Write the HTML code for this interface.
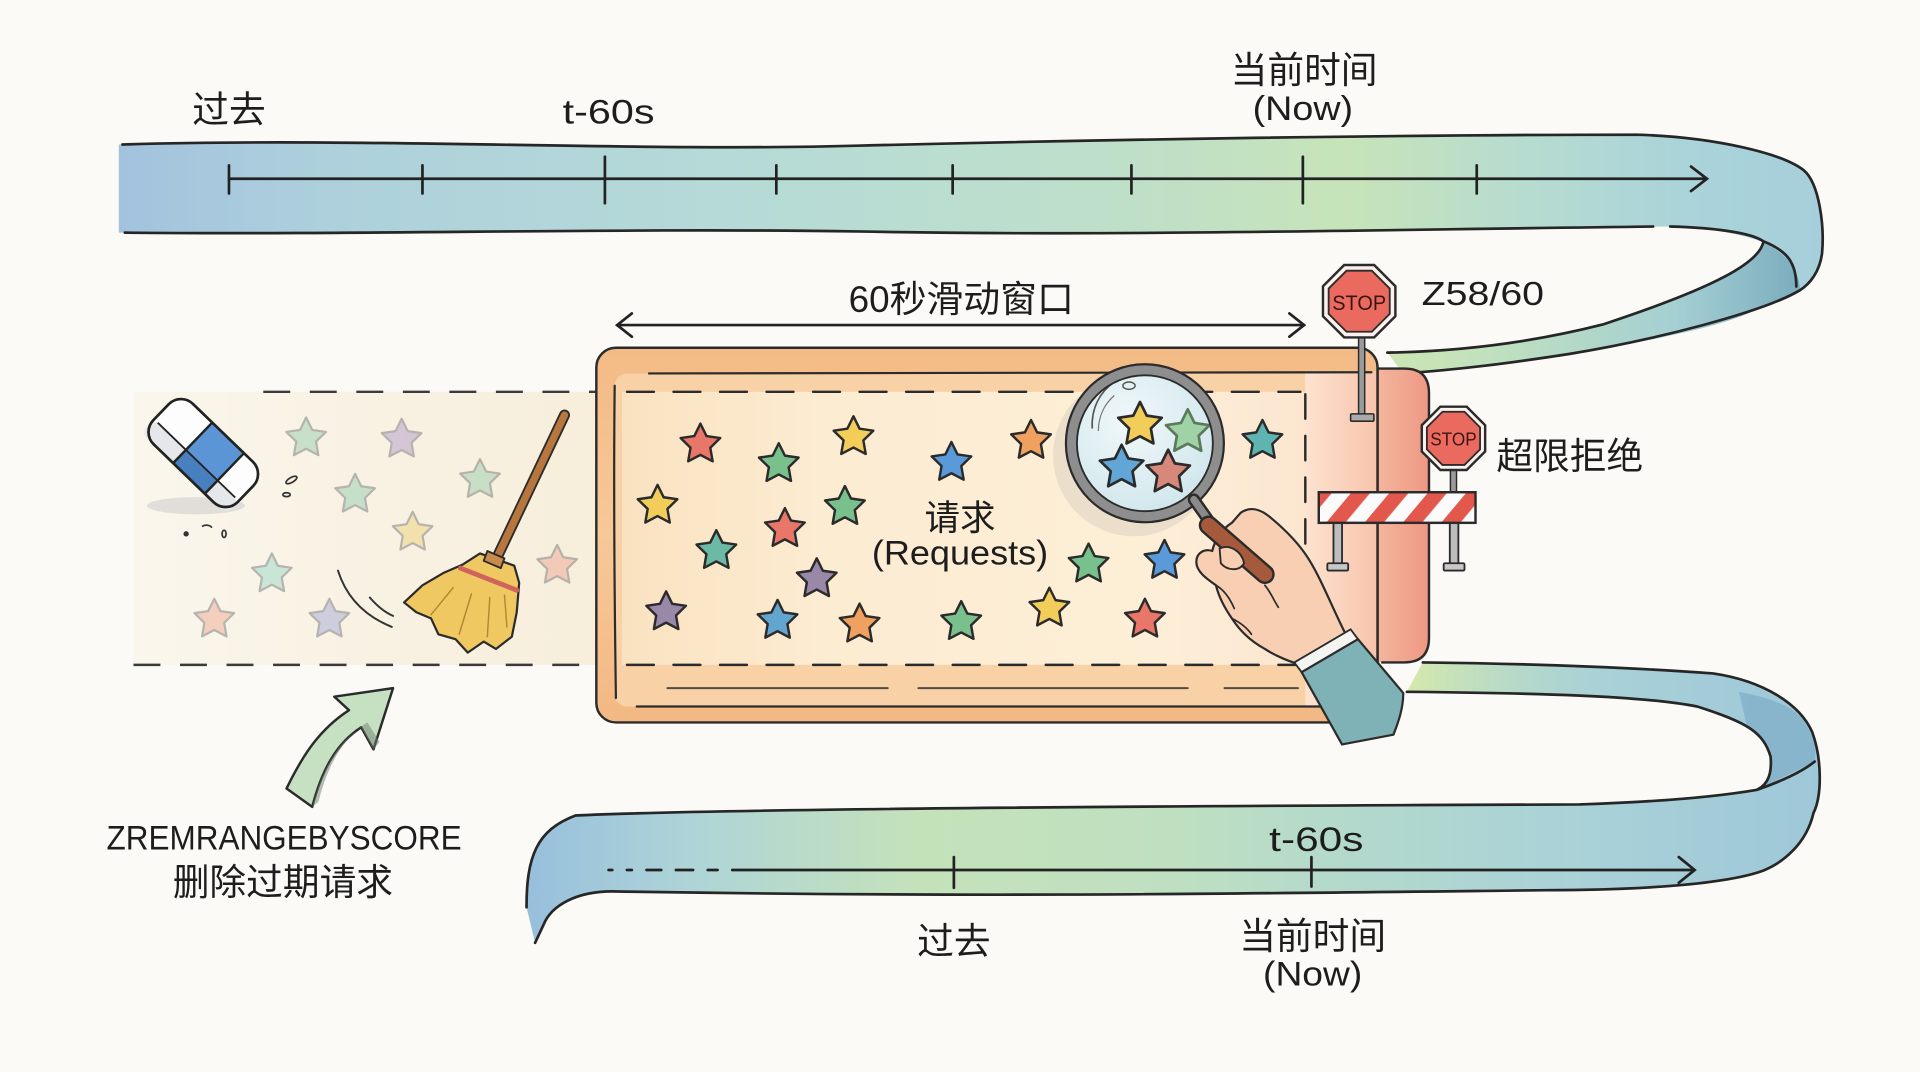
<!DOCTYPE html>
<html><head><meta charset="utf-8">
<style>
html,body{margin:0;padding:0;background:#fbfaf7;overflow:hidden}
svg{display:block}
text{font-family:"Liberation Sans","Noto Sans CJK SC",sans-serif;fill:#1d1d1d}
</style></head>
<body>
<svg width="1920" height="1072" viewBox="0 0 1568 875.5" preserveAspectRatio="none" xmlns="http://www.w3.org/2000/svg">
<defs>
  <path id="st" d="M0,-17 L5,-6.88 L16.17,-5.25 L8.08,2.63 L9.99,13.75 L0,8.5 L-9.99,13.75 L-8.08,2.63 L-16.17,-5.25 L-5,-6.88 Z"/>
  <linearGradient id="topG" gradientUnits="userSpaceOnUse" x1="97" y1="0" x2="1490" y2="0">
    <stop offset="0" stop-color="#a3c2de"/>
    <stop offset="0.12" stop-color="#add0dc"/>
    <stop offset="0.4" stop-color="#b7dcd6"/>
    <stop offset="0.62" stop-color="#c0e0c6"/>
    <stop offset="0.72" stop-color="#c7e4b8"/>
    <stop offset="0.82" stop-color="#b7dccf"/>
    <stop offset="0.92" stop-color="#aad3da"/>
    <stop offset="1" stop-color="#a6cfdb"/>
  </linearGradient>
  <linearGradient id="retG" gradientUnits="userSpaceOnUse" x1="1470" y1="0" x2="1133" y2="0">
    <stop offset="0" stop-color="#7cadbe"/>
    <stop offset="0.3" stop-color="#a4cfd3"/>
    <stop offset="0.8" stop-color="#c3e2bc"/>
    <stop offset="1" stop-color="#cbe6b2"/>
  </linearGradient>
  <linearGradient id="botG" gradientUnits="userSpaceOnUse" x1="430" y1="0" x2="1490" y2="0">
    <stop offset="0" stop-color="#97bfdc"/>
    <stop offset="0.123" stop-color="#aed4d8"/>
    <stop offset="0.302" stop-color="#c4e2ba"/>
    <stop offset="0.49" stop-color="#bfe0c0"/>
    <stop offset="0.632" stop-color="#b3d9cc"/>
    <stop offset="0.821" stop-color="#a9d1d8"/>
    <stop offset="1" stop-color="#9ec7d9"/>
  </linearGradient>
  <linearGradient id="stripGreen" gradientUnits="userSpaceOnUse" x1="1150" y1="0" x2="1330" y2="0">
    <stop offset="0" stop-color="#d6e9ac" stop-opacity="1"/>
    <stop offset="1" stop-color="#a9d3d0" stop-opacity="0"/>
  </linearGradient>
  <linearGradient id="fadeG" x1="0" y1="0" x2="1" y2="0">
    <stop offset="0" stop-color="#faf6ec"/>
    <stop offset="1" stop-color="#f7eedb"/>
  </linearGradient>
  <linearGradient id="frameG" x1="0" y1="0" x2="0" y2="1">
    <stop offset="0" stop-color="#f3ba85"/>
    <stop offset="0.5" stop-color="#f7c898"/>
    <stop offset="1" stop-color="#f3b883"/>
  </linearGradient>
  <linearGradient id="inG" gradientUnits="userSpaceOnUse" x1="505" y1="0" x2="1066" y2="0">
    <stop offset="0" stop-color="#fae2c0"/>
    <stop offset="0.3" stop-color="#fcecd2"/>
    <stop offset="0.8" stop-color="#fdeed7"/>
    <stop offset="1" stop-color="#fce6d0"/>
  </linearGradient>
  <linearGradient id="pinkG" gradientUnits="userSpaceOnUse" x1="1066" y1="0" x2="1125" y2="0">
    <stop offset="0" stop-color="#fde3d0"/>
    <stop offset="1" stop-color="#f8c3ab"/>
  </linearGradient>
  <linearGradient id="panelG" gradientUnits="userSpaceOnUse" x1="1125" y1="0" x2="1167" y2="0">
    <stop offset="0" stop-color="#f4b59c"/>
    <stop offset="1" stop-color="#ee9884"/>
  </linearGradient>
  <radialGradient id="lensG" cx="0.4" cy="0.35" r="0.7">
    <stop offset="0" stop-color="#f1f8f9"/>
    <stop offset="1" stop-color="#cfe6ec"/>
  </radialGradient>
  <pattern id="stripes" width="24" height="24" patternUnits="userSpaceOnUse" patternTransform="rotate(40)">
    <rect width="24" height="24" fill="#fbfbfb"/>
    <rect width="12" height="24" fill="#e3584c"/>
  </pattern>
  <clipPath id="lensClip"><circle cx="935" cy="362" r="56"/></clipPath>
</defs>

<rect x="0" y="0" width="1568" height="875.5" fill="#fbfaf7"/>

<!-- ============ TOP RIBBON ============ -->
<path d="M97,118 C300,112 520,124 700,119 C900,114 1150,110 1337,110 C1400,112 1455,125 1473,139 C1486,150 1490,185 1488,207 C1487,222 1478,232 1470,237 L1440,198 C1420,190 1390,186 1364,185 C1100,188 900,193 700,189 C500,186 300,192 97,190 Z" fill="url(#topG)"/>
<path d="M1440,198 C1436,215 1400,235 1309,265 C1250,280 1190,287 1133,288 L1146,305 C1200,302 1250,295 1282,289 C1350,278 1400,268 1430,255 C1455,245 1465,240 1470,237 C1470,225 1462,208 1440,198 Z" fill="url(#retG)"/>
<g fill="none" stroke="#262626" stroke-width="2.2" stroke-linecap="round">
  <path d="M100,118 C300,112 520,124 700,119 C900,114 1150,110 1337,110 C1400,112 1455,125 1473,139 C1486,150 1490,185 1488,207 C1486,222 1478,232 1470,237 C1440,255 1350,278 1282,289 C1230,297 1190,302 1146,305"/>
  <path d="M102,190 C300,192 500,186 700,189 C900,193 1100,188 1350,185"/>
  <path d="M1364,185 C1400,186 1430,190 1440,197 C1460,205 1467,215 1467,234"/>
  <path d="M1440,198 C1436,215 1400,235 1309,265 C1250,280 1190,287 1133,288"/>
</g>
<!-- top axis -->
<g stroke="#222" stroke-width="2.2" fill="none" stroke-linecap="round">
  <line x1="187" y1="146" x2="1393" y2="146"/>
  <polyline points="1381,136 1394,146 1381,156"/>
  <line x1="187" y1="135" x2="187" y2="158"/>
  <line x1="345" y1="135" x2="345" y2="158"/>
  <line x1="494" y1="128" x2="494" y2="166"/>
  <line x1="634" y1="135" x2="634" y2="158"/>
  <line x1="778" y1="135" x2="778" y2="158"/>
  <line x1="924" y1="135" x2="924" y2="158"/>
  <line x1="1064" y1="128" x2="1064" y2="166"/>
  <line x1="1206" y1="135" x2="1206" y2="158"/>
</g>
<text x="187" y="100" font-size="30" text-anchor="middle">过去</text>
<text x="497" y="101" font-size="28" text-anchor="middle" textLength="75" lengthAdjust="spacingAndGlyphs">t-60s</text>
<text x="1065" y="68" font-size="30" text-anchor="middle">当前时间</text>
<text x="1064" y="98" font-size="28" text-anchor="middle" textLength="82" lengthAdjust="spacingAndGlyphs">(Now)</text>

<!-- ============ BOTTOM RIBBON ============ -->
<path d="M1162,541 C1250,542 1330,545 1399,550 C1440,556 1470,575 1480,598 C1488,620 1488,650 1481,664 C1475,690 1455,705 1440,711 C1410,722 1340,727 1263,727 C1000,730 800,733 500,728 C470,728 450,740 444,755 L437,770 L430,741 C430,700 438,678 470,666 C600,660 1000,658 1290,657 C1350,655 1400,651 1435,645 C1445,640 1447,630 1446,618 C1440,598 1427,590 1386,577 C1340,568 1250,566 1149,565 Z" fill="url(#botG)"/>
<path d="M1149,565 L1162,541 C1250,542 1330,545 1399,550 L1386,577 C1340,568 1250,566 1149,565 Z" fill="url(#stripGreen)"/>
<path d="M1427,594 C1440,600 1446,610 1446,618 C1447,630 1445,640 1435,645 L1482,622 C1484,610 1480,598 1470,585 C1460,575 1445,570 1420,565 Z" fill="#7dadc6" opacity="0.7"/>
<g fill="none" stroke="#262626" stroke-width="2.2" stroke-linecap="round">
  <path d="M1162,541 C1250,542 1330,545 1399,550 C1440,556 1470,575 1480,598 C1488,620 1488,650 1481,664 C1475,690 1455,705 1440,711 C1410,722 1340,727 1263,727 C1000,730 800,733 500,728 C470,728 450,740 444,755 L437,770"/>
  <path d="M1149,565 C1250,566 1340,568 1386,577 C1427,590 1440,598 1446,618 C1447,630 1445,640 1435,645 C1400,651 1350,655 1290,657 C1000,658 600,660 470,666 C438,678 430,700 430,741"/>
  <path d="M1435,645 C1455,638 1472,630 1482,622"/>
</g>
<!-- bottom axis -->
<g stroke="#222" stroke-width="2.2" fill="none" stroke-linecap="round">
  <line x1="497" y1="710.5" x2="500" y2="710.5"/>
  <line x1="512" y1="710.5" x2="516" y2="710.5"/>
  <line x1="528" y1="710.5" x2="540" y2="710.5"/>
  <line x1="552" y1="710.5" x2="566" y2="710.5"/>
  <line x1="578" y1="710.5" x2="586" y2="710.5"/>
  <line x1="598" y1="710.5" x2="1383" y2="710.5"/>
  <polyline points="1371,700 1384,710.5 1371,721"/>
  <line x1="779" y1="700" x2="779" y2="725"/>
  <line x1="1071" y1="700" x2="1071" y2="724"/>
</g>
<text x="1075" y="695" font-size="28" text-anchor="middle" textLength="77" lengthAdjust="spacingAndGlyphs">t-60s</text>
<text x="779" y="779" font-size="30" text-anchor="middle">过去</text>
<text x="1072" y="775" font-size="30" text-anchor="middle">当前时间</text>
<text x="1072" y="805" font-size="28" text-anchor="middle" textLength="81" lengthAdjust="spacingAndGlyphs">(Now)</text>

<!-- ============ EXPIRED REGION ============ -->
<rect x="109" y="320" width="380" height="223" fill="url(#fadeG)"/>
<g stroke="#3a3a3a" stroke-width="2" fill="none">
  <line x1="215" y1="320" x2="488" y2="320" stroke-dasharray="22 16"/>
  <line x1="109" y1="543" x2="488" y2="543" stroke-dasharray="22 16"/>
</g>
<g stroke="#8a8a8a" stroke-width="1.8" stroke-linejoin="round" opacity="0.6">
  <use href="#st" x="250" y="358" fill="#a6d4b6"/>
  <use href="#st" x="328" y="359" fill="#bba9cf"/>
  <use href="#st" x="290" y="404" fill="#a6d4b6"/>
  <use href="#st" x="392" y="392" fill="#a6d4b6"/>
  <use href="#st" x="337" y="435" fill="#f0d88a"/>
  <use href="#st" x="222" y="469" fill="#a8dccd"/>
  <use href="#st" x="175" y="506" fill="#f3b6a3"/>
  <use href="#st" x="269" y="506" fill="#b3b5da"/>
  <use href="#st" x="455" y="462" fill="#f1b1a0"/>
</g>
<!-- eraser -->
<ellipse cx="160" cy="413" rx="40" ry="7" fill="#c8c8c8" opacity="0.5"/>
<g transform="translate(166,370) rotate(44)">
  <rect x="-48" y="-23" width="96" height="46" rx="14" fill="#fdfdfd"/>
  <rect x="-48" y="8" width="96" height="15" rx="6" fill="#e6e7ea"/>
  <rect x="-12" y="-23" width="36" height="46" fill="#5b95d5"/>
  <rect x="-12" y="8" width="36" height="15" fill="#477fbf"/>
  <rect x="-48" y="-23" width="96" height="46" rx="14" fill="none" stroke="#222" stroke-width="2.2"/>
  <line x1="-12" y1="-23" x2="-12" y2="23" stroke="#222" stroke-width="2"/>
  <line x1="24" y1="-23" x2="24" y2="23" stroke="#222" stroke-width="2"/>
  <line x1="-44" y1="8" x2="44" y2="8" stroke="#222" stroke-width="1.5"/>
</g>
<g fill="none" stroke="#333" stroke-width="1.4">
  <ellipse cx="238" cy="392" rx="5" ry="2" transform="rotate(-30 238 392)"/>
  <ellipse cx="234" cy="404" rx="3" ry="1.6"/>
  <ellipse cx="183" cy="436" rx="1.6" ry="3"/>
  <path d="M165,430 C168,428 172,429 173,431"/>
  <circle cx="152" cy="436" r="1.5" fill="#333"/>
</g>
<!-- broom -->
<g stroke="#2b2b2b" stroke-linejoin="round" stroke-linecap="round">
  <line x1="461" y1="339" x2="406" y2="455" stroke-width="9"/>
  <line x1="461" y1="339" x2="406" y2="455" stroke="#b8763f" stroke-width="6"/>
  <path d="M392,452 L420,462 L424,476 L422,500 L418,520 L405,530 L395,524 L382,533 L372,522 L358,518 L352,505 L340,500 L330,492 L345,478 L362,468 L378,461 Z" fill="#f0c862" stroke-width="1.8"/>
  <path d="M376,464 L422,482" stroke="#d0645c" stroke-width="4"/>
  <path d="M370,480 L352,502 M385,485 L375,518 M400,488 L398,520 M412,486 L414,512" fill="none" stroke="#b08a30" stroke-width="1.2"/>
  <path d="M398,450 L412,456 L409,464 L395,458 Z" fill="#c98a4e" stroke-width="1.5"/>
</g>
<g fill="none" stroke="#333" stroke-width="1.6" stroke-linecap="round">
  <path d="M276,466 C282,485 295,502 320,512"/>
  <path d="M302,488 C308,495 314,500 321,503"/>
</g>
<!-- green arrow -->
<path d="M234,644 C248,615 262,595 285,580 L273,569 L321,562 L305,612 L295,594 C275,607 263,628 255,659 Z" fill="#c5e1c2" stroke="#2b2b2b" stroke-width="2" stroke-linejoin="round"/>
<path d="M255,659 C263,628 275,607 295,594 L305,612 L310,606 L300,590 C280,603 268,624 260,655 Z" fill="#6f7f6f" opacity="0.5"/>
<text x="232" y="694" font-size="28" text-anchor="middle" textLength="290" lengthAdjust="spacingAndGlyphs">ZREMRANGEBYSCORE</text>
<text x="231" y="731" font-size="30" text-anchor="middle">删除过期请求</text>

<!-- ============ WINDOW BOX ============ -->
<rect x="487" y="284" width="638" height="306" rx="16" fill="url(#frameG)"/>
<rect x="502" y="305" width="623" height="272" rx="10" fill="#f8d2a6"/>
<rect x="508" y="320" width="558" height="223" fill="url(#inG)"/>
<rect x="1066" y="303" width="59" height="274" fill="url(#pinkG)"/>
<path d="M1125,301 L1147,301 Q1167,301 1167,321 L1167,521 Q1167,541 1147,541 L1125,541 Z" fill="url(#panelG)"/>
<path d="M1125,301 L1147,301 Q1167,301 1167,321 L1167,521 Q1167,541 1147,541 L1128,541" fill="none" stroke="#2b2b2b" stroke-width="2"/>
<rect x="487" y="284" width="638" height="306" rx="16" fill="none" stroke="#2b2b2b" stroke-width="2"/>
<g fill="none" stroke="#2b2b2b" stroke-linecap="round">
  <path d="M502,315 C501,400 502,500 503,570" stroke-width="1.8"/>
  <path d="M530,305 L1120,304" stroke-width="1.8" stroke-dasharray="380 40 200 20"/>
  <line x1="512" y1="320" x2="1062" y2="320" stroke-width="2" stroke-dasharray="22 16"/>
  <line x1="512" y1="543" x2="1062" y2="543" stroke-width="2" stroke-dasharray="22 16"/>
  <path d="M545,562 L1060,562" stroke-width="1.6" stroke-dasharray="180 25 220 30" opacity="0.8"/>
  <path d="M520,577 L1100,577" stroke-width="1.8"/>
  <line x1="1066" y1="322" x2="1066" y2="545" stroke-width="2" stroke-dasharray="20 14"/>
  <line x1="1125" y1="300" x2="1125" y2="545" stroke-width="1.8"/>
</g>

<!-- stars in box -->
<g stroke="#2b2b2b" stroke-width="2" stroke-linejoin="round">
  <use href="#st" x="572" y="363" fill="#e8776a"/>
  <use href="#st" x="636" y="379" fill="#78c08c"/>
  <use href="#st" x="697" y="357" fill="#f2cd5a"/>
  <use href="#st" x="537" y="413" fill="#f2cd5a"/>
  <use href="#st" x="690" y="414" fill="#78c08c"/>
  <use href="#st" x="641" y="432" fill="#e8776a"/>
  <use href="#st" x="585" y="450" fill="#6cbaa5"/>
  <use href="#st" x="667" y="473" fill="#9a88a8"/>
  <use href="#st" x="544" y="500" fill="#9a88a8"/>
  <use href="#st" x="635" y="507" fill="#62a6cf"/>
  <use href="#st" x="702" y="510" fill="#f0a160"/>
  <use href="#st" x="777" y="378" fill="#5b9ad8"/>
  <use href="#st" x="842" y="360" fill="#f0a160"/>
  <use href="#st" x="785" y="508" fill="#78c08c"/>
  <use href="#st" x="889" y="461" fill="#78c08c"/>
  <use href="#st" x="857" y="497" fill="#f2cd5a"/>
  <use href="#st" x="1031" y="360" fill="#5fb3b0"/>
  <use href="#st" x="951" y="458" fill="#5b9ad8"/>
  <use href="#st" x="935" y="506" fill="#e8776a"/>
</g>
<text x="784" y="433" font-size="29" text-anchor="middle">请求</text>
<text x="784" y="461" font-size="28" text-anchor="middle" textLength="144" lengthAdjust="spacingAndGlyphs">(Requests)</text>

<!-- magnifier -->
<circle cx="926" cy="372" r="66" fill="#c8c4b8" opacity="0.35"/>
<circle cx="935" cy="362" r="58" fill="url(#lensG)"/>
<g clip-path="url(#lensClip)" stroke="#2b2b2b" stroke-width="2" stroke-linejoin="round">
  <use href="#st" transform="translate(931,347) scale(1.1)" fill="#f2cd5a"/>
  <use href="#st" transform="translate(970,353) scale(1.1)" fill="#9fd3a6" stroke="#5a7a5a"/>
  <use href="#st" transform="translate(916,382) scale(1.1)" fill="#62a6d6"/>
  <use href="#st" transform="translate(954,386) scale(1.1)" fill="#d8887a"/>
</g>
<path d="M892,350 C891,334 898,320 910,312" fill="none" stroke="#555" stroke-width="1.3"/>
<path d="M897,352 C897,340 902,330 910,323" fill="none" stroke="#777" stroke-width="1"/>
<ellipse cx="922" cy="315" rx="5" ry="3" fill="none" stroke="#555" stroke-width="1.2"/>
<circle cx="935" cy="362" r="60" fill="none" stroke="#8e8e8e" stroke-width="9"/>
<circle cx="935" cy="362" r="64.5" fill="none" stroke="#2b2b2b" stroke-width="1.8"/>
<circle cx="935" cy="362" r="55.5" fill="none" stroke="#2b2b2b" stroke-width="1.5"/>
<line x1="975" y1="408" x2="987" y2="425" stroke="#2b2b2b" stroke-width="10" stroke-linecap="round"/>
<line x1="975" y1="408" x2="987" y2="425" stroke="#8a8a8a" stroke-width="6" stroke-linecap="round"/>

<!-- hand -->
<path d="M1013,419 C1021,413 1030,416 1038,423 C1050,433 1061,444 1069,457 C1079,473 1087,494 1099,518 L1064,544 C1053,540 1042,536 1033,530 C1022,524 1013,516 1006,505 C999,495 995,486 993,478 C986,473 977,467 977,459 C977,451 984,448 990,450 C992,441 998,432 1006,427 Z" fill="#f8cfb3" stroke="#2b2b2b" stroke-width="1.8" stroke-linejoin="round"/>
<line x1="987" y1="429" x2="1033" y2="469" stroke="#2b2b2b" stroke-width="16" stroke-linecap="round"/>
<line x1="987" y1="429" x2="1033" y2="469" stroke="#a65a3c" stroke-width="12" stroke-linecap="round"/>
<path d="M996,448 C1004,444 1014,450 1016,460 C1012,467 1002,466 997,460 Z" fill="#f8cfb3" stroke="#2b2b2b" stroke-width="1.5"/>
<g fill="none" stroke="#2b2b2b" stroke-width="1.4" stroke-linecap="round">
  <path d="M993,478 C1000,482 1005,490 1008,497"/>
  <path d="M1006,505 C1012,508 1018,512 1022,518"/>
  <path d="M1033,478 C1038,484 1040,490 1044,496"/>
</g>
<path d="M1057,541 L1103,514 L1109,522 L1063,549 Z" fill="#f4f4f0" stroke="#2b2b2b" stroke-width="1.5"/>
<path d="M1063,549 L1109,522 L1146,566 C1146,580 1141,592 1138,600 L1096,608 Z" fill="#7fb2b6" stroke="#2b2b2b" stroke-width="1.8" stroke-linejoin="round"/>

<!-- stop sign 1 -->
<rect x="1109.5" y="272" width="5" height="68" fill="#9a9a9a" stroke="#2b2b2b" stroke-width="1.2"/>
<rect x="1103" y="338" width="19" height="6" rx="1" fill="#aaa" stroke="#2b2b2b" stroke-width="1.3"/>
<polygon points="1122.25,216.43 1139.57,233.75 1139.57,258.25 1122.25,275.57 1097.75,275.57 1080.43,258.25 1080.43,233.75 1097.75,216.43" fill="#fbf2ee" stroke="#2b2b2b" stroke-width="2"/>
<polygon points="1120.33,221.05 1134.95,235.67 1134.95,256.33 1120.33,270.95 1099.67,270.95 1085.05,256.33 1085.05,235.67 1099.67,221.05" fill="#eb6a5f" stroke="#2b2b2b" stroke-width="1.5"/>
<text x="1110" y="253" font-size="17" text-anchor="middle" textLength="44" lengthAdjust="spacingAndGlyphs" style="fill:#3a1510">STOP</text>
<text x="1161" y="249" font-size="27" textLength="100" lengthAdjust="spacingAndGlyphs">Z58/60</text>

<!-- stop sign 2 + barrier -->
<rect x="1184.5" y="382" width="5" height="22" fill="#9a9a9a" stroke="#2b2b2b" stroke-width="1.2"/>
<polygon points="1197.72,332.13 1212.87,347.28 1212.87,368.72 1197.72,383.87 1176.28,383.87 1161.13,368.72 1161.13,347.28 1176.28,332.13" fill="#fbf2ee" stroke="#2b2b2b" stroke-width="2"/>
<polygon points="1195.99,336.29 1208.71,349.01 1208.71,366.99 1195.99,379.71 1178.01,379.71 1165.29,366.99 1165.29,349.01 1178.01,336.29" fill="#eb6a5f" stroke="#2b2b2b" stroke-width="1.5"/>
<text x="1187" y="364" font-size="15" text-anchor="middle" textLength="38" lengthAdjust="spacingAndGlyphs" style="fill:#3a1510">STOP</text>
<text x="1222" y="383" font-size="30">超限拒绝</text>
<rect x="1089" y="426" width="7" height="36" fill="#bdbdbd" stroke="#2b2b2b" stroke-width="1.5"/>
<rect x="1184" y="426" width="7" height="36" fill="#bdbdbd" stroke="#2b2b2b" stroke-width="1.5"/>
<rect x="1084" y="460" width="17" height="6" rx="1" fill="#c8c8c8" stroke="#2b2b2b" stroke-width="1.5"/>
<rect x="1179" y="460" width="17" height="6" rx="1" fill="#c8c8c8" stroke="#2b2b2b" stroke-width="1.5"/>
<rect x="1077" y="402" width="128" height="25" fill="url(#stripes)" stroke="#2b2b2b" stroke-width="2"/>

<!-- window double arrow -->
<g stroke="#222" stroke-width="2.2" fill="none" stroke-linecap="round">
  <line x1="504" y1="265.5" x2="1065" y2="265.5"/>
  <polyline points="516,256 504,265.5 516,275"/>
  <polyline points="1053,256 1065,265.5 1053,275"/>
</g>
<text x="785" y="255" font-size="30" text-anchor="middle" textLength="184" lengthAdjust="spacingAndGlyphs">60秒滑动窗口</text>
</svg>
</body></html>
